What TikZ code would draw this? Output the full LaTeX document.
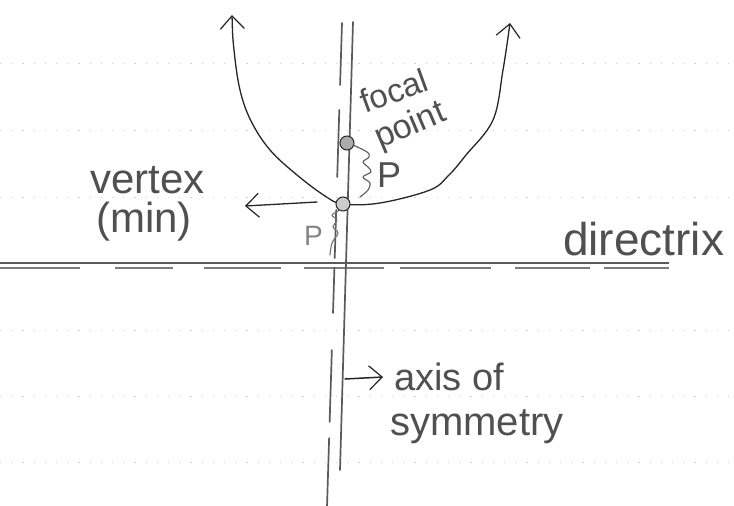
\documentclass[tikz,border=0pt]{standalone}
\usepackage{fontspec}
\setmainfont{Liberation Sans}
\usetikzlibrary{arrows.meta}
\definecolor{ink}{HTML}{262626}
\definecolor{pencil}{HTML}{5A5A5A}
\definecolor{textink}{HTML}{505050}
\definecolor{ruled}{HTML}{CFCFCF}
\begin{document}
\begin{tikzpicture}[x=1pt,y=-1pt,
  hand/.style={text=textink, inner sep=0pt, anchor=base west},
  curveline/.style={ink, line width=1.3pt, line cap=round, line join=round},
  axisline/.style={pencil, line width=1.7pt, line cap=round},
  dirline/.style={pencil, line width=1.4pt},
  ruleline/.style={ruled, line width=0.7pt, dash pattern=on 1.2pt off 10pt},
  squig/.style={pencil, line width=1.1pt, line cap=round, line join=round},
  barb/.style={-{Straight Barb[length=13pt,width=24pt,line width=1.2pt]}},
  dot/.style={circle, draw=ink, line width=1pt, minimum size=14pt, inner sep=0pt}
]
\useasboundingbox (0,0) rectangle (734,506);
\fill[white] (0,0) rectangle (734,506);

% faint ruled paper lines
\foreach \yy in {63,130,197,330,396,462}
  \draw[ruleline] (0,\yy) -- (734,\yy);

% directrix
\coordinate (dl) at (0,263);
\coordinate (dr) at (669,263);
\draw[dirline] (dl) -- (dr);
\foreach \a/\b in {0/80,115/173,204/281,304/384,400/491,515/590,604/669}
  \draw[pencil!80, line width=1.3pt] (\a,268) -- (\b,268);

% axis of symmetry
\coordinate (axtop) at (353,22);
\coordinate (axbot) at (340,470);
\draw[axisline] (axtop) -- (axbot);
\foreach \a/\b in {23/85,110/177,210/258,268/313,350/422,438/506}
  \draw[axisline] ({342-(\a-23)*0.031},\a) -- ({342-(\b-23)*0.031},\b);

% parabola
\draw[curveline, {Straight Barb[length=13pt,width=24pt,line width=1.2pt]}-{Straight Barb[length=13pt,width=24pt,line width=1.2pt]}]
  plot[smooth, tension=0.6] coordinates {(232,15) (234,50) (240,90) (251,121) (270,150) (297,175) (325,196) (343,204)
   (380,203) (430,190) (449,175) (466,155) (493,120) (503,70) (510,23)};

% focus and vertex
\node[dot, fill=gray!65] (focus) at (347,143) {};
\node[dot, fill=gray!40] (vtx) at (343,204) {};

% brace for p between focus and vertex
\draw[squig] plot[smooth, tension=0.6] coordinates {(353,145) (367,152) (369,157) (363,162) (368,167) (371,172) (363,177) (370,183) (368,190) (360,197)};
% brace for p between vertex and directrix
\draw[squig, pencil!85] plot[smooth, tension=0.6] coordinates {(340,210) (332,215) (337,220) (333,227) (338,233) (332,243) (330,255)};

% vertex arrow
\coordinate (vtail) at (317,202);
\coordinate (vtip) at (245,206);
\draw[curveline, barb] (vtail) -- (vtip);

% axis label arrow
\coordinate (aatail) at (345,379);
\coordinate (aatip) at (383,377);
\draw[curveline, line width=1.5pt, barb] (aatail) -- (aatip);

% labels
\node[hand, font=\fontsize{33}{36}\selectfont, rotate=20] (lfocal) at (365,114) {focal};
\node[hand, font=\fontsize{34}{36}\selectfont, rotate=23] (lpoint) at (380,149) {point};
\node[hand, font=\fontsize{36}{40}\selectfont] (lp1) at (377,187) {P};
\node[hand, font=\fontsize{28}{30}\selectfont, text=textink!70] (lp2) at (304,245) {P};
\node[hand, font=\fontsize{42}{46}\selectfont] (lvertex) at (90,193) {vertex};
\node[hand, font=\fontsize{42}{46}\selectfont] (lmin) at (96,232) {(min)};
\node[hand, font=\fontsize{46}{50}\selectfont] (ldir) at (563,255) {directrix};
\node[hand, font=\fontsize{38}{42}\selectfont] (laxis) at (394,390) {axis of};
\node[hand, font=\fontsize{40}{44}\selectfont] (lsym) at (390,435) {symmetry};
\end{tikzpicture}
\end{document}
